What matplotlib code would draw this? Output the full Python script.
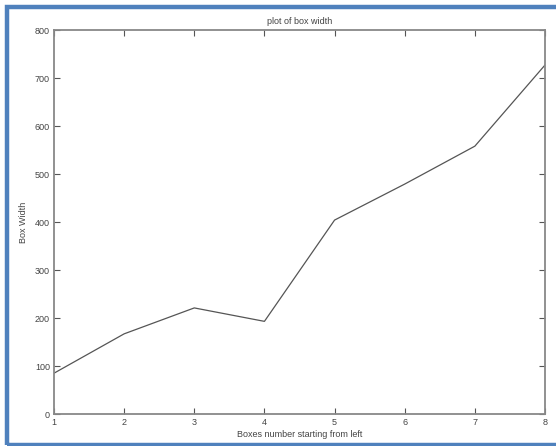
import matplotlib
matplotlib.use('Agg')
import matplotlib.pyplot as plt
from matplotlib.patches import Rectangle

boxes = [1, 2, 3, 4, 5, 6, 7, 8]
box_width = [85, 167, 221, 193, 404, 479, 558, 727]
x_ticks = [1, 2, 3, 4, 5, 6, 7, 8]
y_ticks = [0, 100, 200, 300, 400, 500, 600, 700, 800]

plt.rcParams['font.family'] = 'Liberation Sans'
fig = plt.figure(figsize=(5.56, 4.46), dpi=100)
ax = fig.add_axes([54 / 556, 32 / 446, 491 / 556, 384 / 446])

ax.plot(boxes, box_width, color='#555555', linewidth=0.9)
ax.set_xlim(1, 8)
ax.set_ylim(0, 800)
ax.set_xticks(x_ticks)
ax.set_yticks(y_ticks)
ax.tick_params(direction='in', top=True, right=True, length=4, width=0.8,
               labelsize=6.5, colors='#555555', labelcolor='#444444', pad=3)
for s in ax.spines.values():
    s.set_color('#888888')
    s.set_linewidth(1.3)

ax.set_title('plot of box width', fontsize=6.5, color='#444444', pad=4)
ax.set_xlabel('Boxes number starting from left', fontsize=6.5, color='#444444', labelpad=2)
ax.set_ylabel('Box Width', fontsize=6.5, color='#444444', labelpad=5)

# blue frame around the picture
fig.patches.append(Rectangle((7 / 556, 1.5 / 446), 1.2, 437.5 / 446, transform=fig.transFigure,
                             fill=False, edgecolor='#4F81BD', linewidth=3.2))

fig.savefig('out.png', dpi=100)
